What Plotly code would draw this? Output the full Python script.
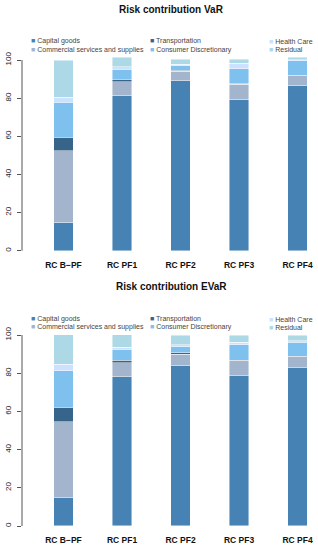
import plotly.graph_objects as go

categories = ["RC B\u2212PF", "RC PF1", "RC PF2", "RC PF3", "RC PF4"]
sectors = ["Capital goods", "Commercial services and supplies", "Transportation",
           "Consumer Discretionary", "Health Care", "Residual"]
colors = ["#4682B4", "#A2B5CD", "#36648B", "#7EC0EE", "#CAE1FF", "#ADD8E6"]

# Risk contribution VaR (%)
var_capital = [14.9, 81.3, 89.0, 79.4, 86.5]
var_commercial = [37.5, 7.3, 5.1, 7.9, 5.3]
var_transport = [7.0, 1.3, 0.5, 0.3, 0.2]
var_consumer = [18.5, 5.2, 2.4, 7.8, 7.6]
var_health = [2.6, 1.4, 0.9, 2.8, 0.6]
var_residual = [19.5, 4.9, 2.5, 2.2, 1.2]

# Risk contribution EVaR (%)
evar_capital = [15.0, 78.2, 84.1, 78.7, 82.9]
evar_commercial = [39.6, 7.3, 5.8, 7.7, 5.6]
evar_transport = [7.5, 1.4, 0.7, 0.3, 0.3]
evar_consumer = [19.2, 5.6, 3.3, 8.1, 7.4]
evar_health = [3.5, 1.0, 1.1, 1.4, 0.8]
evar_residual = [15.2, 6.5, 4.8, 3.6, 2.8]

var_series = [var_capital, var_commercial, var_transport, var_consumer, var_health, var_residual]
evar_series = [evar_capital, evar_commercial, evar_transport, evar_consumer, evar_health, evar_residual]

titles = ["Risk contribution VaR", "Risk contribution EVaR"]

W, H = 318, 550
fig = go.Figure()

for s, (name, col) in enumerate(zip(sectors, colors)):
    fig.add_trace(go.Bar(x=categories, y=var_series[s], name=name, marker_color=col,
                         marker_line=dict(color="rgba(255,255,255,0.75)", width=0.6),
                         xaxis="x", yaxis="y", showlegend=False, cliponaxis=False))
    fig.add_trace(go.Bar(x=categories, y=evar_series[s], name=name, marker_color=col,
                         marker_line=dict(color="rgba(255,255,255,0.75)", width=0.6),
                         xaxis="x2", yaxis="y2", showlegend=False, cliponaxis=False))

def py(p):
    return 1 - p / H

def px(p):
    return p / W

panels = [(250.7, 1.907), (526.0, 1.91)]
x_left = 22.0
c0, step = 63.5, 58.5
xr = [(x_left - c0) / step, (W - c0) / step]

axis_common = dict(range=[-4, 104], tickvals=[0, 20, 40, 60, 80, 100],
                   ticks="outside", ticklen=4, tickcolor="#555", tickwidth=1,
                   showgrid=False, zeroline=False, showline=False, tickangle=-90,
                   tickfont=dict(family="Liberation Sans", size=8, color="#222"),
                   ticklabelstandoff=3)
xaxis_common = dict(range=xr, showgrid=False, zeroline=False, showline=False, ticks="",
                    tickfont=dict(family="Liberation Sans", size=8.5, color="#111"))

doms = []
for y0p, ppu in panels:
    bottom = y0p + 4 * ppu
    top = y0p - 104 * ppu
    doms.append([py(bottom), py(top)])

fig.update_layout(
    xaxis=dict(domain=[px(x_left), 1], anchor="y", **xaxis_common),
    yaxis=dict(domain=doms[0], anchor="x", **axis_common),
    xaxis2=dict(domain=[px(x_left), 1], anchor="y2", **xaxis_common),
    yaxis2=dict(domain=doms[1], anchor="x2", **axis_common),
)
fig.update_xaxes(tickprefix="<b>", ticksuffix="</b>")
fig.update_yaxes(tickprefix="<b>", ticksuffix="</b>")

shapes = []
annotations = []
for i, ((y0p, ppu), title) in enumerate(zip(panels, titles)):
    ysuf = "" if i == 0 else "2"
    shapes.append(dict(type="line", xref=f"x{ysuf} domain", yref=f"y{ysuf}",
                       x0=0, x1=0, y0=0, y1=100, line=dict(color="#555", width=1)))
    title_y = [9.5, 286.5][i]
    annotations.append(dict(text=f"<b>{title}</b>", xref="paper", yref="paper",
                            x=px(171), y=py(title_y), showarrow=False,
                            xanchor="center", yanchor="middle",
                            font=dict(family="Liberation Sans", size=10, color="#111")))
    rows_y = [[41.5, 49.8], [319.3, 327.3]][i]
    cols_x = [29, 147.5, 266.5]
    for k, (name, col) in enumerate(zip(sectors, colors)):
        c, r = divmod(k, 2)
        annotations.append(dict(
            text=f'<span style="color:{col}">\u25A0</span> {name}',
            xref="paper", yref="paper", x=px(cols_x[c]), y=py(rows_y[r]),
            showarrow=False, xanchor="left", yanchor="middle",
            font=dict(family="Liberation Sans", size=7, color="#444")))

fig.update_layout(
    width=W, height=H, margin=dict(l=0, r=0, t=0, b=0),
    barmode="stack", bargap=0.675,
    paper_bgcolor="white", plot_bgcolor="white",
    shapes=shapes, annotations=annotations,
)

fig.write_html("out.html", config={"displayModeBar": False})
with open("out.html", "r", encoding="utf-8") as f:
    html = f.read()
html = html.replace("<head>", "<head><style>html,body{margin:0;padding:0;overflow:hidden;}</style>", 1)
with open("out.html", "w", encoding="utf-8") as f:
    f.write(html)
